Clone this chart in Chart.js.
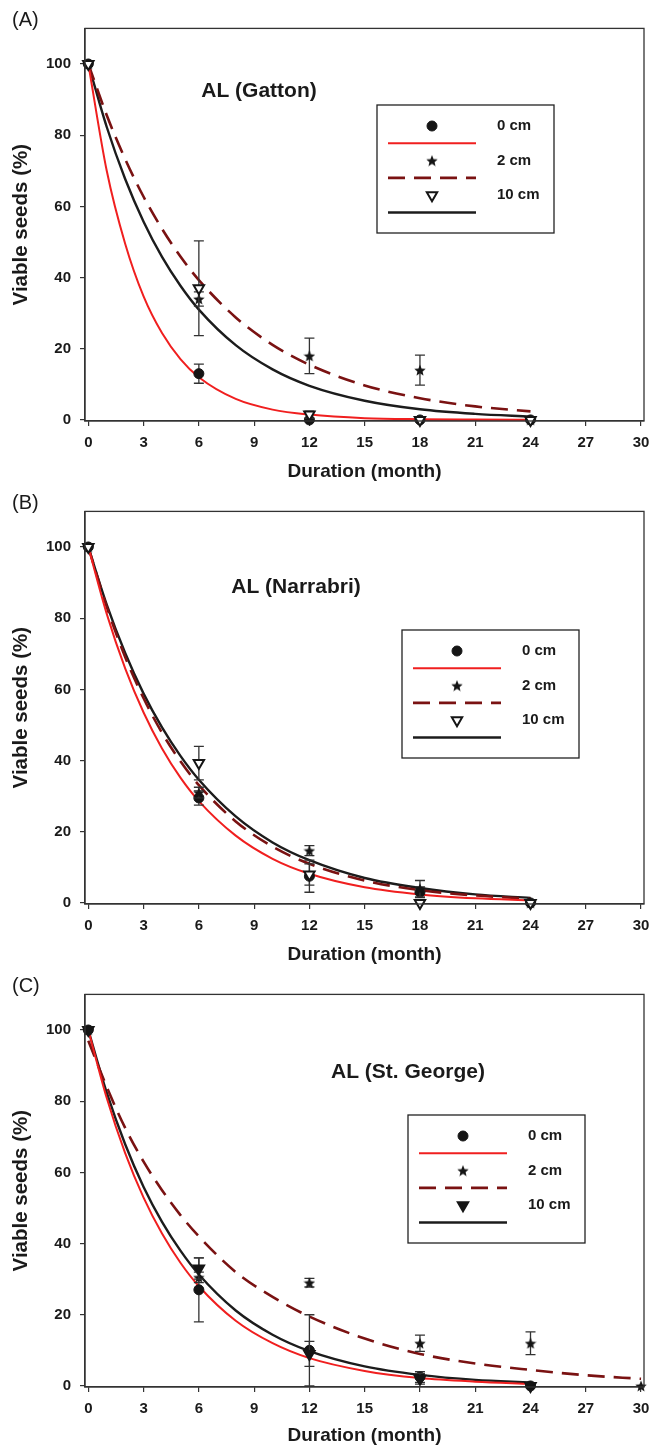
<!DOCTYPE html>
<html>
<head>
<meta charset="utf-8">
<script src="https://cdn.jsdelivr.net/npm/chart.js@4.4.1/dist/chart.umd.min.js"></script>
<style>
  body { margin: 0; background: #fff; width: 652px; }
  canvas { display: block; }
</style>
</head>
<body>
<canvas id="panelA" width="652" height="483"></canvas>
<canvas id="panelB" width="652" height="483"></canvas>
<canvas id="panelC" width="652" height="481"></canvas>
<script>
// sampling months
const months = [0, 6, 12, 18, 24];
const monthsLong = [0, 6, 12, 18, 24, 30];
const fitMonths = [0, 1, 2, 3, 4, 5, 6, 8, 10, 12, 15, 18, 21, 24];
const fitMonthsLong = [0, 1, 2, 3, 4, 5, 6, 8, 10, 12, 15, 18, 21, 24, 27, 30];
const xTicks = [0, 3, 6, 9, 12, 15, 18, 21, 24, 27, 30];
const yTicks = [0, 20, 40, 60, 80, 100];
const depthLabels = ["0 cm", "2 cm", "10 cm"];

// (A) Gatton
const gatton0 = [100, 13, 0, 0, 0];
const gatton0Err = [0, 2.7, 0, 0, 0];
const gatton2 = [100, 34, 18, 14, 0];
const gatton2Err = [0, 2, 5, 4.2, 0];
const gatton10 = [100, 37, 1.5, 0, 0];
const gatton10Err = [0, 13.3, 1, 0, 0];
const gattonFit0 = [100, 70, 49.5, 34.7, 24.4, 17.1, 12, 5.9, 2.9, 1.5, 0.5, 0.2, 0.1, 0.05];
const gattonFit2 = [100, 85.6, 73.3, 62.7, 53.7, 45.9, 39.3, 28.8, 21.1, 15.5, 9.7, 6.1, 3.8, 2.4];
const gattonFit10 = [100, 82.3, 67.7, 55.7, 45.8, 37.7, 31, 21, 14.2, 9.6, 5.4, 3.0, 1.7, 0.93];

// (B) Narrabri
const narrabri0 = [100, 29.5, 7.5, 3, 0];
const narrabri0Err = [0, 2, 4.5, 1.5, 0];
const narrabri2 = [100, 31, 14.7, 4, 0];
const narrabri2Err = [0, 1.5, 1.4, 2.3, 0];
const narrabri10 = [100, 39.3, 8, 0, 0];
const narrabri10Err = [0, 4.7, 3, 0, 0];
const narrabriFit0 = [100, 81.2, 65.9, 53.5, 43.4, 35.2, 28.6, 18.9, 12.4, 8.2, 4.4, 2.4, 1.3, 0.7];
const narrabriFit2 = [100, 83.2, 69.1, 57.5, 47.8, 39.8, 33.1, 22.9, 15.8, 11.0, 6.3, 3.6, 2.1, 1.2];
const narrabriFit10 = [100, 83.8, 70.2, 58.8, 49.3, 41.3, 34.6, 24.3, 17.0, 12.0, 7.0, 4.2, 2.4, 1.4];

// (C) St. George
const stgeorge0 = [100, 27, 10, 2.5, 0];
const stgeorge0Err = [0, 9, 10, 1.5, 0];
const stgeorge2 = [100, 30.5, 29, 12, 12, 0];
const stgeorge2Err = [0, 1.5, 1.2, 2.3, 3.2, 0];
const stgeorge10 = [100, 33, 9, 2, 0];
const stgeorge10Err = [0, 3, 3.5, 1.5, 0];
const stgeorgeFit0 = [100, 80.9, 65.4, 52.9, 42.8, 34.6, 28, 18.3, 12.0, 7.8, 4.2, 2.2, 1.2, 0.6];
const stgeorgeFit2 = [97, 84, 72.5, 63, 55, 48, 42, 32, 25, 19.5, 13.3, 9, 6.3, 4.5, 3, 2];
const stgeorgeFit10 = [100, 82.4, 67.9, 55.9, 46.1, 38.0, 31.3, 21.2, 14.4, 9.8, 5.5, 3.1, 1.7, 1.0];

const FONT = "'Liberation Sans', Arial, sans-serif";
const INK = "#1a1a1a";
const fitStyles = [
  { color: "#f01f1f", width: 2, dash: [] },
  { color: "#7a1212", width: 2.6, dash: [17, 9] },
  { color: "#1c1c1c", width: 2.4, dash: [] }
];

function starImage(size, color) {
  const c = document.createElement("canvas");
  c.width = c.height = size;
  const g = c.getContext("2d");
  const r = size / 2, ri = r * 0.45;
  g.fillStyle = color;
  g.beginPath();
  for (let i = 0; i < 10; i++) {
    const a = -Math.PI / 2 + i * Math.PI / 5;
    const rr = i % 2 ? ri : r;
    g.lineTo(r + rr * Math.cos(a), r + 0.6 + rr * Math.sin(a));
  }
  g.closePath();
  g.fill();
  return c;
}
const star = starImage(12, "#151515");

function markerStyles(openTriangle) {
  return [
    { pointStyle: "circle", pointRadius: 5, pointBackgroundColor: "#151515", pointBorderColor: "#151515", pointBorderWidth: 1, order: 0 },
    { pointStyle: star, pointRadius: 6, pointBackgroundColor: "#151515", pointBorderColor: "#151515", pointBorderWidth: 0, order: -1 },
    { pointStyle: "triangle", pointRotation: 180, pointRadius: 6, pointBackgroundColor: openTriangle ? "#fff" : "#151515",
      pointBorderColor: "#151515", pointBorderWidth: 2, order: -2 }
  ];
}

const errorBars = {
  id: "errorBars",
  beforeDatasetDraw(chart, args) {
    const ds = chart.data.datasets[args.index];
    if (!ds.errors) return;
    const y = chart.scales.y, ctx = chart.ctx;
    ctx.save();
    ctx.strokeStyle = "#333";
    ctx.lineWidth = 1.3;
    args.meta.data.forEach((pt, k) => {
      const e = ds.errors[k];
      if (!e) return;
      const v = ds.data[k].y;
      const top = y.getPixelForValue(v + e), bot = y.getPixelForValue(v - e);
      ctx.beginPath();
      ctx.moveTo(pt.x, top); ctx.lineTo(pt.x, bot);
      ctx.moveTo(pt.x - 5, top); ctx.lineTo(pt.x + 5, top);
      ctx.moveTo(pt.x - 5, bot); ctx.lineTo(pt.x + 5, bot);
      ctx.stroke();
    });
    ctx.restore();
  }
};

function drawMarker(ctx, ds, x, y) {
  ctx.save();
  ctx.fillStyle = ds.pointBackgroundColor;
  ctx.strokeStyle = ds.pointBorderColor;
  ctx.lineWidth = ds.pointBorderWidth;
  Chart.helpers.drawPoint(ctx, {
    pointStyle: ds.pointStyle, radius: ds.pointRadius,
    rotation: ds.pointRotation || 0, borderWidth: ds.pointBorderWidth
  }, x, y);
  ctx.restore();
}

const panelDecor = {
  id: "panelDecor",
  afterDraw(chart, args, opts) {
    const { ctx, chartArea: a } = chart;
    ctx.save();
    // frame
    ctx.strokeStyle = "#333";
    ctx.lineWidth = 1.3;
    ctx.strokeRect(a.left, a.top, a.right - a.left, a.bottom - a.top);
    // panel letter
    ctx.fillStyle = INK;
    ctx.textBaseline = "middle";
    ctx.textAlign = "left";
    ctx.font = "20px " + FONT;
    ctx.fillText(opts.letter, 12, a.top - 8);
    // site name
    ctx.textAlign = "center";
    ctx.font = "bold 21px " + FONT;
    ctx.fillText(opts.site, opts.siteX, opts.siteY);
    // legend
    const bx = opts.legendX, by = opts.legendY, step = 17.3;
    ctx.strokeStyle = "#222";
    ctx.lineWidth = 1.3;
    ctx.strokeRect(bx, by, 177, 128);
    const ds = chart.data.datasets;
    ctx.font = "bold 15px " + FONT;
    ctx.textAlign = "left";
    for (let i = 0; i < 3; i++) {
      const ry = by + 21 + 2 * i * step;
      drawMarker(ctx, ds[i], bx + 55, ry);
      ctx.fillStyle = INK;
      ctx.fillText(ds[i].label, bx + 120, ry);
      const f = ds[3 + i];
      ctx.save();
      ctx.strokeStyle = f.borderColor;
      ctx.lineWidth = f.borderWidth;
      ctx.setLineDash(f.borderDash);
      ctx.beginPath();
      ctx.moveTo(bx + 11, ry + step);
      ctx.lineTo(bx + 99, ry + step);
      ctx.stroke();
      ctx.restore();
    }
    ctx.restore();
  }
};

function toPoints(xs, ys) {
  return xs.map((x, i) => ({ x: x, y: ys[i] }));
}

function makePanel(id, panel) {
  const canvas = document.getElementById(id);
  const H = canvas.height;
  const marks = markerStyles(panel.openTriangle);
  const datasets = [];
  panel.obs.forEach((o, i) => {
    datasets.push(Object.assign({
      label: depthLabels[i], data: toPoints(o.x, o.y), errors: o.err,
      showLine: false, clip: false
    }, marks[i]));
  });
  panel.fits.forEach((f, i) => {
    datasets.push({
      label: depthLabels[i] + " fit", data: toPoints(f.x, f.y), showLine: true,
      pointRadius: 0, borderColor: fitStyles[i].color, borderWidth: fitStyles[i].width,
      borderDash: fitStyles[i].dash, cubicInterpolationMode: "monotone", fill: false, order: 1
    });
  });
  const tickFont = { family: FONT, size: 15, weight: "bold" };
  const titleFont = { family: FONT, size: 19, weight: "bold" };
  return new Chart(canvas, {
    type: "scatter",
    data: { datasets: datasets },
    plugins: [errorBars, panelDecor],
    options: {
      responsive: false,
      animation: false,
      devicePixelRatio: 1,
      layout: { padding: { top: 28.4, right: 6.7, left: 0, bottom: 0 } },
      plugins: {
        legend: { display: false },
        tooltip: { enabled: false },
        panelDecor: panel.decor
      },
      scales: {
        x: {
          type: "linear", min: -0.18, max: 30.16,
          afterBuildTicks: s => { s.ticks = xTicks.map(v => ({ value: v })); },
          afterFit: s => { s.height = H - 421; s.paddingLeft = 0; s.paddingRight = 0; },
          grid: { display: true, drawOnChartArea: false, drawTicks: true, tickLength: 5, color: "#333", lineWidth: 1.2 },
          border: { display: true, color: "#333", width: 1.3 },
          ticks: { font: tickFont, color: INK, padding: 8, maxRotation: 0, autoSkip: false },
          title: { display: true, text: "Duration (month)", font: titleFont, color: INK, padding: 0 }
        },
        y: {
          type: "linear", min: -0.3, max: 110,
          afterBuildTicks: s => { s.ticks = yTicks.map(v => ({ value: v })); },
          afterFit: s => { s.width = 85; },
          grid: { display: true, drawOnChartArea: false, drawTicks: true, tickLength: 5, color: "#333", lineWidth: 1.2 },
          border: { display: true, color: "#333", width: 1.3 },
          ticks: { font: tickFont, color: INK, padding: 9 },
          title: { display: true, text: "Viable seeds (%)", font: { family: FONT, size: 20.5, weight: "bold" }, color: INK, padding: { top: 9, bottom: 0 } }
        }
      }
    }
  });
}

makePanel("panelA", {
  openTriangle: true,
  obs: [
    { x: months, y: gatton0, err: gatton0Err },
    { x: months, y: gatton2, err: gatton2Err },
    { x: months, y: gatton10, err: gatton10Err }
  ],
  fits: [
    { x: fitMonths, y: gattonFit0 },
    { x: fitMonths, y: gattonFit2 },
    { x: fitMonths, y: gattonFit10 }
  ],
  decor: { letter: "(A)", site: "AL (Gatton)", siteX: 259, siteY: 91, legendX: 377, legendY: 105 }
});

makePanel("panelB", {
  openTriangle: true,
  obs: [
    { x: months, y: narrabri0, err: narrabri0Err },
    { x: months, y: narrabri2, err: narrabri2Err },
    { x: months, y: narrabri10, err: narrabri10Err }
  ],
  fits: [
    { x: fitMonths, y: narrabriFit0 },
    { x: fitMonths, y: narrabriFit2 },
    { x: fitMonths, y: narrabriFit10 }
  ],
  decor: { letter: "(B)", site: "AL (Narrabri)", siteX: 296, siteY: 104, legendX: 402, legendY: 147 }
});

makePanel("panelC", {
  openTriangle: false,
  obs: [
    { x: months, y: stgeorge0, err: stgeorge0Err },
    { x: monthsLong, y: stgeorge2, err: stgeorge2Err },
    { x: months, y: stgeorge10, err: stgeorge10Err }
  ],
  fits: [
    { x: fitMonths, y: stgeorgeFit0 },
    { x: fitMonthsLong, y: stgeorgeFit2 },
    { x: fitMonths, y: stgeorgeFit10 }
  ],
  decor: { letter: "(C)", site: "AL (St. George)", siteX: 408, siteY: 106, legendX: 408, legendY: 149 }
});
</script>
</body>
</html>
